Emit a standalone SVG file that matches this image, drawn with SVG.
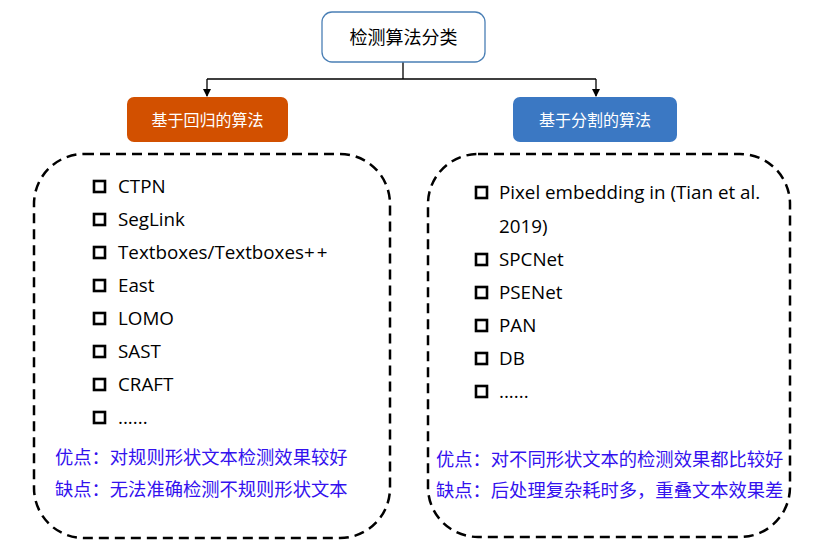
<svg xmlns="http://www.w3.org/2000/svg" width="817" height="555" viewBox="0 0 817 555">
<style>
.t{font-family:"Open Sans","Noto Sans CJK SC",sans-serif;}
.item{font-size:18.8px;fill:#000;}
.note{font-size:18.3px;fill:#3311ee;font-family:"Noto Sans CJK SC",sans-serif;}
.cb{fill:none;stroke:#000;stroke-width:2.6;}
.dash{fill:none;stroke:#000;stroke-width:2.5;stroke-dasharray:10 6;}
.conn{fill:none;stroke:#000;stroke-width:1.3;}
</style>
<defs>
<marker id="arr" markerWidth="8" markerHeight="8" refX="7" refY="4" orient="auto" markerUnits="userSpaceOnUse">
<path d="M0,0 L8,4 L0,8 Z" fill="#000"/>
</marker>
</defs>
<rect width="817" height="555" fill="#fff"/>
<g id="connectors">
<path class="conn" d="M403,62 V79 M207,79 H596"/>
<path class="conn" d="M207,79 V96" marker-end="url(#arr)"/>
<path class="conn" d="M596,79 V96" marker-end="url(#arr)"/>
</g>
<g id="root">
<rect x="322" y="12" width="163" height="50" rx="10" fill="#fff" stroke="#4a7fb5" stroke-width="1.3"/>
<text x="403.5" y="44" font-size="18" text-anchor="middle" font-family="Noto Sans CJK SC,sans-serif">检测算法分类</text>
</g>
<g id="regression">
<rect x="127" y="97" width="161" height="45" rx="7" fill="#d25000"/>
<text x="207.5" y="126" font-size="16" fill="#fff" text-anchor="middle" font-family="Noto Sans CJK SC,sans-serif">基于回归的算法</text>
</g>
<g id="segmentation">
<rect x="513" y="97" width="164" height="45" rx="7" fill="#3b78c3"/>
<text x="595" y="126" font-size="16" fill="#fff" text-anchor="middle" font-family="Noto Sans CJK SC,sans-serif">基于分割的算法</text>
</g>
<g id="left-list">
<rect class="dash" x="34" y="154" width="356" height="384" rx="50"/>
<g class="cb">
<rect x="94" y="181" width="11" height="11"/>
<rect x="94" y="214" width="11" height="11"/>
<rect x="94" y="247" width="11" height="11"/>
<rect x="94" y="280" width="11" height="11"/>
<rect x="94" y="313" width="11" height="11"/>
<rect x="94" y="346" width="11" height="11"/>
<rect x="94" y="379" width="11" height="11"/>
<rect x="94" y="412" width="11" height="11"/>
</g>
<g class="t item">
<text x="118" y="193">CTPN</text>
<text x="118" y="226">SegLink</text>
<text x="118" y="259">Textboxes/Textboxes<tspan letter-spacing="2">++</tspan></text>
<text x="118" y="292">East</text>
<text x="118" y="325">LOMO</text>
<text x="118" y="358">SAST</text>
<text x="118" y="391">CRAFT</text>
<text x="118" y="424">......</text>
</g>
<text class="note" x="55" y="464">优点：对规则形状文本检测效果较好</text>
<text class="note" x="55" y="496">缺点：无法准确检测不规则形状文本</text>
</g>
<g id="right-list">
<rect class="dash" x="428" y="154" width="362" height="383" rx="50"/>
<g class="cb">
<rect x="476" y="187" width="11" height="11"/>
<rect x="476" y="254" width="11" height="11"/>
<rect x="476" y="287" width="11" height="11"/>
<rect x="476" y="320" width="11" height="11"/>
<rect x="476" y="353" width="11" height="11"/>
<rect x="476" y="386" width="11" height="11"/>
</g>
<g class="t item">
<text x="499" y="199">Pixel embedding in (Tian et al.</text>
<text x="499" y="233">2019)</text>
<text x="499" y="266">SPCNet</text>
<text x="499" y="299">PSENet</text>
<text x="499" y="332">PAN</text>
<text x="499" y="365">DB</text>
<text x="499" y="398">......</text>
</g>
<text class="note" x="436" y="466">优点：对不同形状文本的检测效果都比较好</text>
<text class="note" x="436" y="497">缺点：后处理复杂耗时多，重叠文本效果差</text>
</g>
</svg>
